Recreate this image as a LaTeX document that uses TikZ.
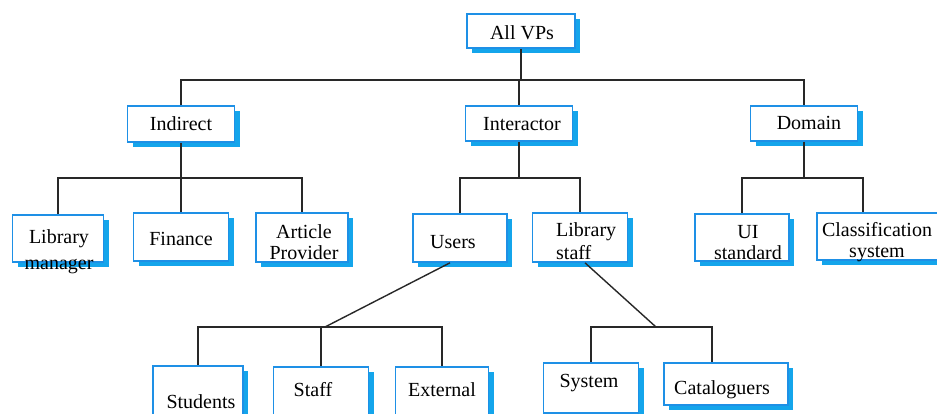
\documentclass[tikz,border=0pt]{standalone}
\usepackage{fontspec}
\setmainfont{Liberation Serif}
\newfontfamily\vpfont{Liberation Serif}
\usetikzlibrary{shadows}

\definecolor{vpblue}{RGB}{30,144,230}
\definecolor{vpshade}{RGB}{20,165,235}
\definecolor{vpline}{RGB}{40,40,40}

\tikzset{
  vpbox/.style={draw=vpblue, line width=1.6pt, fill=white, inner sep=0pt,
    drop shadow={shadow xshift=5pt, shadow yshift=-5pt, fill=vpshade, opacity=1}},
  vptext/.style={font=\vpfont\fontsize{20}{21}\selectfont, align=center, inner sep=0pt},
  tree/.style={draw=vpline, line width=2pt},
  slant/.style={draw=vpline, line width=1.4pt}
}

\begin{document}
\begin{tikzpicture}[x=1pt,y=-1pt]
\path[use as bounding box, fill=white] (0,0) rectangle (937,413);

% top level
\node[vpbox, minimum width=108, minimum height=34] (allvps) at (521,31) {};
\node[vptext] (t-allvps) at (522,33) {All VPs};

% second level
\node[vpbox, minimum width=107, minimum height=36] (indirect) at (181,124) {};
\node[vptext] (t-indirect) at (181,124) {Indirect};
\node[vpbox, minimum width=107, minimum height=35] (interactor) at (519,123.5) {};
\node[vptext] (t-interactor) at (522,124) {Interactor};
\node[vpbox, minimum width=107, minimum height=35] (domain) at (804,123.5) {};
\node[vptext] (t-domain) at (809,123) {Domain};

% third level
\node[vpbox, minimum width=91, minimum height=47] (libmgr) at (58,238.5) {};
\node[vptext] (t-libmgr) at (59,252) {Library\\[5pt]manager};
\node[vpbox, minimum width=95, minimum height=48] (finance) at (181,237) {};
\node[vptext] (t-finance) at (181,239) {Finance};
\node[vpbox, minimum width=92, minimum height=49] (article) at (302,237.5) {};
\node[vptext] (t-article) at (304,242.5) {Article\\Provider};
\node[vpbox, minimum width=94, minimum height=48] (users) at (460,238) {};
\node[vptext] (t-users) at (453,242) {Users};
\node[vpbox, minimum width=95, minimum height=49] (libstaff) at (580,237.5) {};
\node[vptext, anchor=west, align=left] (t-libstaff) at (556,241.5) {Library\\[2pt]staff};
\node[vpbox, minimum width=94, minimum height=47] (uistd) at (742,237.5) {};
\node[vptext] (t-uistd) at (748,242.5) {UI\\standard};
\node[vpbox, minimum width=124, minimum height=47] (classif) at (879,236.5) {};
\node[vptext] (t-classif) at (877,242.5) {Classification\\system};

% fourth level
\node[vpbox, minimum width=90, minimum height=50] (students) at (198,391) {};
\node[vptext] (t-students) at (201,402) {Students};
\node[vpbox, minimum width=95, minimum height=50] (staff) at (321,392) {};
\node[vptext] (t-staff) at (313,390) {Staff};
\node[vpbox, minimum width=93, minimum height=50] (external) at (442,392) {};
\node[vptext] (t-external) at (442,390) {External};
\node[vpbox, minimum width=95, minimum height=50] (system) at (591,388) {};
\node[vptext] (t-system) at (589,383) {System};
\node[vpbox, minimum width=124, minimum height=42] (catal) at (726,384) {};
\node[vptext] (t-catal) at (722,390) {Cataloguers};

% connectors
\coordinate (topbar) at (521,80);
\draw[tree] (allvps.south) -- (allvps.south |- topbar);
\draw[tree] (indirect.north) |- (topbar) -| (domain.north);
\draw[tree] (interactor.north) -- (interactor.north |- topbar);

\coordinate (indbar) at (181,178);
\draw[tree] (indirect.south) -- (indirect.south |- indbar);
\draw[tree] (libmgr.north) |- (indbar) -| (article.north);
\draw[tree] (finance.north) -- (finance.north |- indbar);

\coordinate (intbar) at (519,178);
\draw[tree] (interactor.south) -- (interactor.south |- intbar);
\draw[tree] (users.north) |- (intbar) -| (libstaff.north);

\coordinate (dombar) at (804,178);
\draw[tree] (domain.south) -- (domain.south |- dombar);
\draw[tree] (uistd.north) |- (dombar) -| ([xshift=-16pt]classif.north);

\coordinate (userbar) at (325,327);
\draw[slant] ([xshift=-10pt]users.south) -- (userbar);
\draw[tree] (students.north) |- (userbar) -| (external.north);
\draw[tree] (staff.north) -- (staff.north |- userbar);

\coordinate (staffbar) at (656,327);
\draw[slant] ([xshift=5pt]libstaff.south) -- (staffbar);
\draw[tree] (system.north) |- (staffbar) -| ([xshift=-14pt]catal.north);
\end{tikzpicture}
\end{document}
